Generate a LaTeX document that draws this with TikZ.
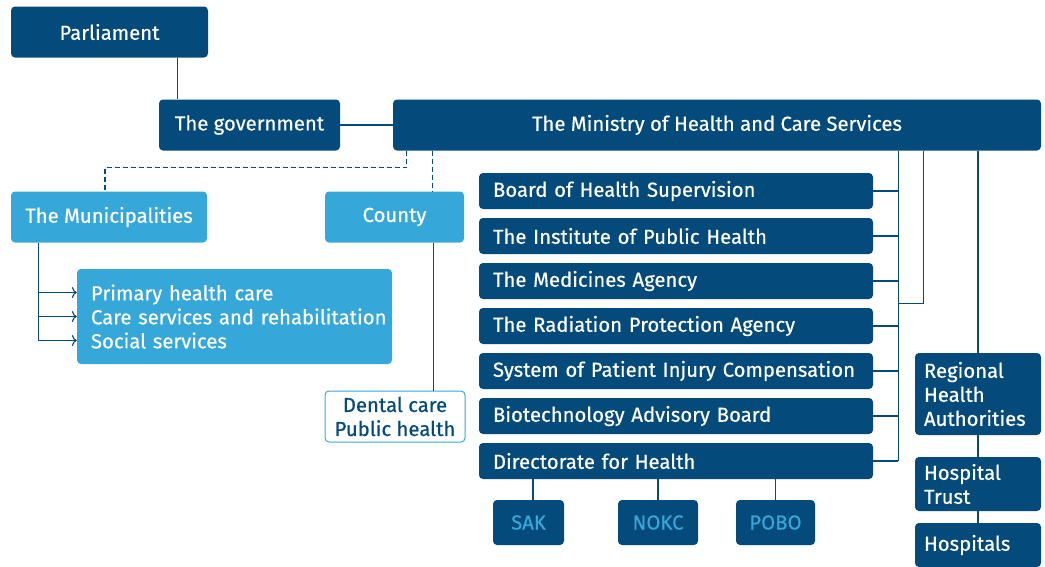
\documentclass[tikz,border=0pt]{standalone}
\usepackage{fontspec}
\setmainfont{Fira Sans}[FakeBold=0.5]
\usepackage{tikz}
\usetikzlibrary{calc,arrows.meta}
\definecolor{navy}{RGB}{4,74,122}
\definecolor{sky}{RGB}{54,167,217}

\begin{document}
\begin{tikzpicture}[x=1pt,y=-1pt,
    box/.style={fill=navy,rounded corners=4pt,text=white,inner sep=0pt,font=\fontsize{20.3}{24}\selectfont},
    lightbox/.style={box,fill=sky},
    agency/.style={box,minimum width=394pt,minimum height=36pt,text width=366pt,align=left},
    smallbox/.style={box,minimum height=45pt,text=sky},
    link/.style={draw=navy,line width=1.1pt}]
        \useasboundingbox (0,0) rectangle (1045,566);
        \node[box,minimum width=197pt,minimum height=51pt] (parl) at (109.5,32) {Parliament};
        \node[box,minimum width=181pt,minimum height=51pt] (gov) at (249.5,125) {The government};
        \node[box,minimum width=648pt,minimum height=51pt] (min) at (717,125) {The Ministry of Health and Care Services};
        \node[lightbox,minimum width=196pt,minimum height=51pt] (muni) at (109,217) {The Municipalities};
        \node[lightbox,minimum width=139pt,minimum height=51pt] (county) at (394.5,217) {County};
        \node[lightbox,minimum width=315pt,minimum height=95pt,text width=287pt,align=left] (serv) at (234.5,316.5) {Primary health care\\\mbox{Care services and rehabilitation}\\Social services};
        \node[box,fill=white,draw=sky,line width=1pt,text=navy,minimum width=140pt,minimum height=51pt,align=center] (dent) at (395,416.5) {Dental care\\Public health};
        \node[agency] (board) at (676,191) {Board of Health Supervision};
        \node[agency] (inst) at (676,236) {The Institute of Public Health};
        \node[agency] (med) at (676,281) {The Medicines Agency};
        \node[agency] (rad) at (676,326) {The Radiation Protection Agency};
        \node[agency] (pat) at (676,371) {System of Patient Injury Compensation};
        \node[agency] (bio) at (676,416) {Biotechnology Advisory Board};
        \node[agency] (dir) at (676,461) {Directorate for Health};
        \node[box,minimum width=126pt,minimum height=82pt,text width=108pt,align=left] (reg) at (978,394) {Regional\\Health\\\mbox{Authorities}};
        \node[box,minimum width=126pt,minimum height=54pt,text width=108pt,align=left] (trust) at (978,484) {Hospital\\Trust};
        \node[box,minimum width=126pt,minimum height=44pt,text width=108pt,align=left] (hosp) at (978,545) {Hospitals};
        \node[smallbox,minimum width=71pt] (sak) at (528.5,522.5) {SAK};
        \node[smallbox,minimum width=80pt] (nokc) at (658,522.5) {NOKC};
        \node[smallbox,minimum width=79pt] (pobo) at (775.5,522.5) {POBO};
        \coordinate (pl) at ([xshift=-31pt]parl.south east);
        \coordinate (dm) at ([xshift=14pt]min.south west);
        \coordinate (dc) at ([xshift=40pt]min.south west);
        \coordinate (cl) at ([xshift=-31pt]county.south east);
        \coordinate (mb) at ([xshift=28pt]muni.south west);
        \coordinate (bus) at ([xshift=25pt]board.east);
        \coordinate (bus2) at ([xshift=50pt]board.east);
        \coordinate (mid) at ($(med.east)!0.5!(rad.east)$);
        \draw[link] (pl) -- (pl |- gov.north);
        \draw[link] (gov.east) -- (min.west);
        \draw[link,dash pattern=on 5pt off 3pt] (dm) -- ++(0,17) -| ([xshift=-4pt]muni.north);
        \draw[link,dash pattern=on 5pt off 3pt] (dc) -- (dc |- county.north);
        \draw[link] (cl) -- (cl |- dent.north);
        \foreach \n/\dy in {1/24,2/0,3/-24}
            \path ([yshift=\dy pt]serv.west) coordinate (s\n);
        \draw[link] (mb) -- (mb |- s3);
        \foreach \n in {1,2,3}
            \draw[link,-{To[length=5pt,width=11pt]}] (mb |- s\n) -- (s\n);
        \draw[link] (min.south -| bus) -- (bus |- dir.east);
        \draw[link] (min.south -| bus2) |- (mid -| bus);
        \foreach \a in {board,inst,med,rad,pat,bio,dir}
            \draw[link] (\a.east) -- (\a.east -| bus);
        \draw[link] (min.south -| reg.north) -- (reg.north);
        \draw[link] (reg.south) -- (trust.north);
        \draw[link] (trust.south) -- (hosp.north);
        \draw[link] ([xshift=4.5pt]sak.north) -- ([xshift=4.5pt]sak.north |- dir.south);
        \draw[link] (nokc.north) -- (nokc.north |- dir.south);
        \draw[link] (pobo.north) -- (pobo.north |- dir.south);
    \end{tikzpicture}
\end{document}
